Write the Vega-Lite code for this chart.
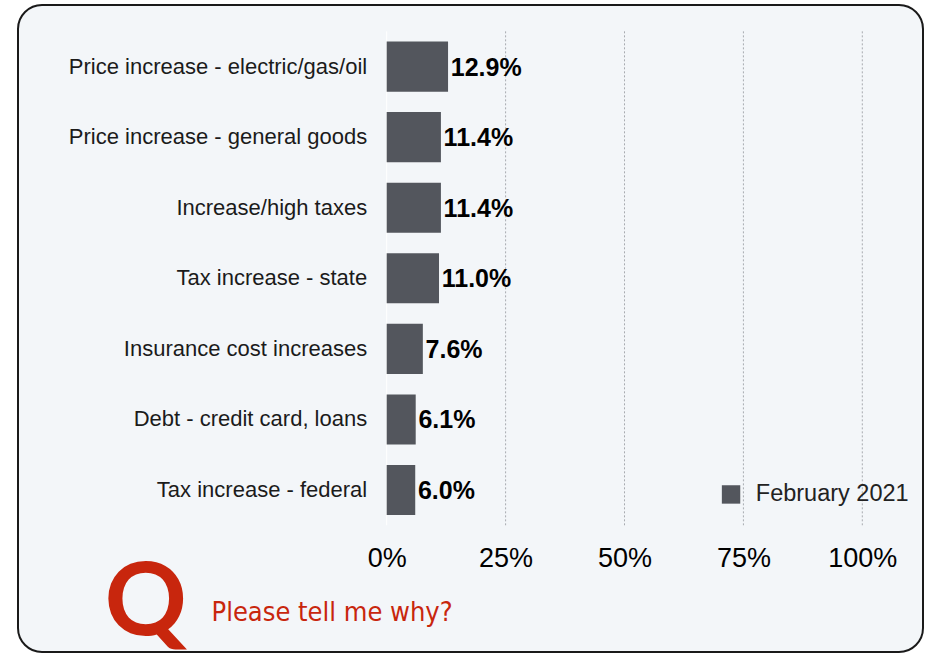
{
  "$schema": "https://vega.github.io/schema/vega-lite/v6.json",
  "width": 905,
  "height": 647,
  "autosize": {"type": "none"},
  "padding": {"left": 18, "top": 5, "right": 2, "bottom": 2},
  "background": "#ffffff",
  "config": {
    "view": {"fill": "#f3f6f9", "stroke": "#1a1a1a", "strokeWidth": 2, "cornerRadius": 24},
    "font": "Liberation Sans"
  },
  "datasets": {
    "reasons": [
      {"reason": "Price increase - electric/gas/oil", "value": 12.9, "label": "12.9%", "series": "February 2021"},
      {"reason": "Price increase - general goods", "value": 11.4, "label": "11.4%", "series": "February 2021"},
      {"reason": "Increase/high taxes", "value": 11.4, "label": "11.4%", "series": "February 2021"},
      {"reason": "Tax increase - state", "value": 11.0, "label": "11.0%", "series": "February 2021"},
      {"reason": "Insurance cost increases", "value": 7.6, "label": "7.6%", "series": "February 2021"},
      {"reason": "Debt - credit card, loans", "value": 6.1, "label": "6.1%", "series": "February 2021"},
      {"reason": "Tax increase - federal", "value": 6.0, "label": "6.0%", "series": "February 2021"}
    ],
    "grid": [
      {"g": 25, "top": "Price increase - electric/gas/oil", "bottom": "Tax increase - federal"},
      {"g": 50, "top": "Price increase - electric/gas/oil", "bottom": "Tax increase - federal"},
      {"g": 75, "top": "Price increase - electric/gas/oil", "bottom": "Tax increase - federal"},
      {"g": 100, "top": "Price increase - electric/gas/oil", "bottom": "Tax increase - federal"}
    ],
    "zero": [
      {"g": 0, "top": "Price increase - electric/gas/oil", "bottom": "Tax increase - federal"}
    ]
  },
  "encoding": {
    "y": {
      "field": "reason",
      "type": "nominal",
      "sort": null,
      "scale": {
        "domain": ["Price increase - electric/gas/oil", "Price increase - general goods", "Increase/high taxes", "Tax increase - state", "Insurance cost increases", "Debt - credit card, loans", "Tax increase - federal"],
        "range": [26.3, 520.3],
        "paddingInner": 0.29,
        "paddingOuter": 0.145,
        "round": false
      },
      "axis": {
        "orient": "left",
        "offset": -368.7,
        "domain": false,
        "ticks": false,
        "grid": false,
        "labelFont": "Liberation Sans",
        "labelFontSize": 22,
        "labelColor": "#1b1b1b",
        "labelPadding": 20,
        "labelLimit": 0,
        "title": "Q",
        "titleFont": "Lato",
        "titleFontSize": 102,
        "titleFontWeight": 700,
        "titleColor": "#c8260d",
        "titleAngle": 0,
        "titleAlign": "left",
        "titleBaseline": "alphabetic",
        "titleX": -282.7,
        "titleY": 629
      }
    },
    "x": {
      "type": "quantitative",
      "scale": {"domain": [-77.52, 112.76], "nice": false, "zero": false},
      "axis": {
        "orient": "bottom",
        "offset": -127,
        "values": [0, 25, 50, 75, 100],
        "labelExpr": "datum.value + '%'",
        "domain": false,
        "ticks": false,
        "grid": false,
        "labelFont": "Liberation Sans",
        "labelFontSize": 27,
        "labelColor": "#000000",
        "labelPadding": 20,
        "title": "Please tell me why?",
        "titleFont": "DejaVu Sans Condensed, Liberation Sans Narrow, Roboto Condensed, Open Sans Condensed, Roboto, sans-serif",
        "titleFontSize": 27,
        "titleFontWeight": "normal",
        "titleColor": "#c8260d",
        "titleAngle": 0,
        "titleAlign": "left",
        "titleBaseline": "alphabetic",
        "titleX": 193,
        "titleY": 95
      }
    }
  },
  "layer": [
    {
      "data": {"name": "grid"},
      "mark": {"type": "rule", "stroke": "#a8abb0", "strokeWidth": 1, "strokeDash": [2, 2], "yOffset": -10.2, "y2Offset": 10.2},
      "encoding": {
        "x": {"field": "g", "type": "quantitative"},
        "y": {"field": "top", "type": "nominal", "bandPosition": 0},
        "y2": {"field": "bottom", "bandPosition": 1}
      }
    },
    {
      "data": {"name": "zero"},
      "mark": {"type": "rule", "stroke": "#ffffff", "strokeWidth": 1, "yOffset": -10.2, "y2Offset": 10.2},
      "encoding": {
        "x": {"field": "g", "type": "quantitative"},
        "y": {"field": "top", "type": "nominal", "bandPosition": 0},
        "y2": {"field": "bottom", "bandPosition": 1}
      }
    },
    {
      "data": {"name": "reasons"},
      "mark": {"type": "bar"},
      "encoding": {
        "x": {"field": "value", "type": "quantitative"},
        "x2": {"datum": 0},
        "color": {
          "field": "series",
          "type": "nominal",
          "scale": {"range": ["#53565d"]},
          "legend": {
            "orient": "none",
            "legendX": 701.3,
            "legendY": 477.7,
            "title": null,
            "padding": 0,
            "symbolType": "square",
            "symbolSize": 339,
            "symbolStrokeWidth": 0,
            "symbolOpacity": 1,
            "labelFont": "Liberation Sans",
            "labelFontSize": 23.5,
            "labelColor": "#222222",
            "labelOffset": 13
          }
        }
      }
    },
    {
      "data": {"name": "reasons"},
      "mark": {"type": "text", "align": "left", "baseline": "middle", "dx": 2.7, "dy": 1, "fontSize": 25, "fontWeight": "bold", "color": "#000000", "font": "Liberation Sans"},
      "encoding": {
        "x": {"field": "value", "type": "quantitative"},
        "text": {"field": "label"}
      }
    }
  ]
}
